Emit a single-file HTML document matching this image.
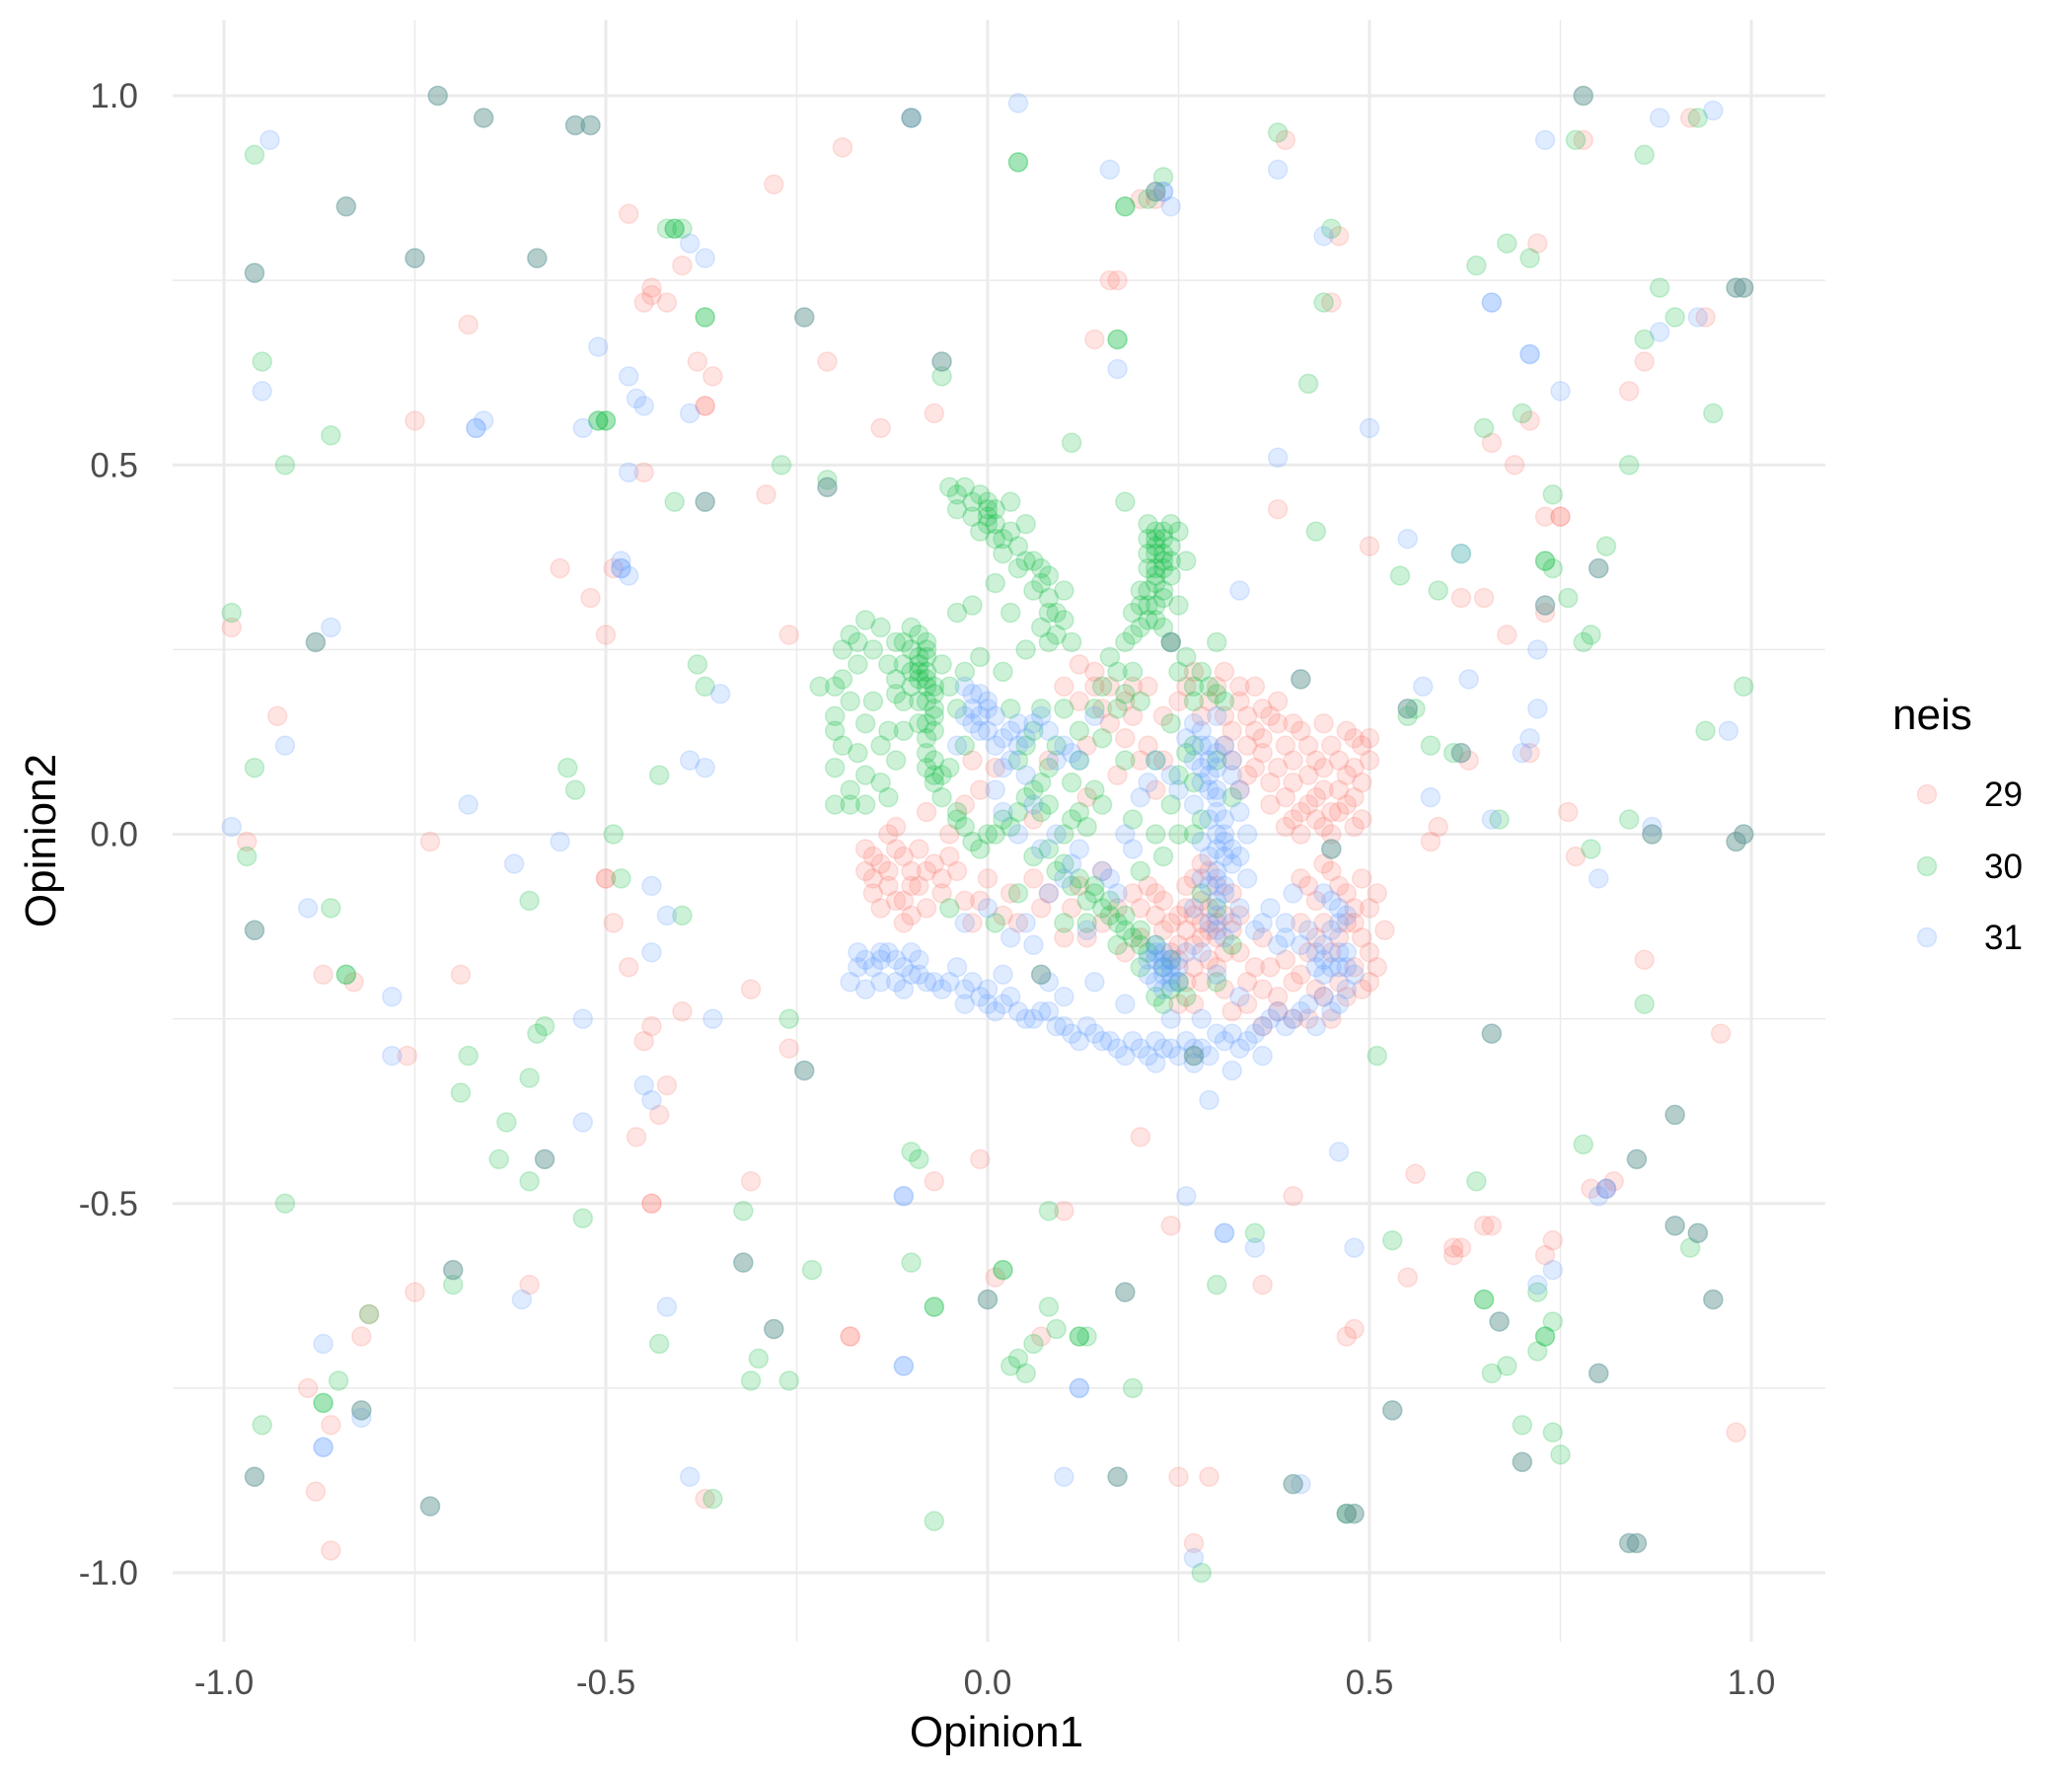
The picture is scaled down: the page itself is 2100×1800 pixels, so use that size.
<!DOCTYPE html>
<html><head><meta charset="utf-8"><title>Opinion scatter</title>
<style>
html,body{margin:0;padding:0;background:#fff;}
svg{display:block;font-family:"Liberation Sans",Arial,sans-serif;}
</style></head>
<body>
<svg id="chart" width="2100" height="1800" viewBox="0 0 2100 1800" xmlns="http://www.w3.org/2000/svg">
<rect x="0" y="0" width="2100" height="1800" fill="#fff"/>
<g id="grid"></g>
<g id="points"></g>
<g id="axes"></g>
<text x="1010" y="1770" font-size="44" text-anchor="middle" fill="#000">Opinion1</text>
<text x="0" y="0" font-size="44" text-anchor="middle" fill="#000" transform="translate(56,852) rotate(-90)">Opinion2</text>
<g>
<text x="1918" y="739" font-size="44" fill="#000">neis</text>
<g id="legend-keys"></g>
</g>
</svg>
<script>
const xTicks = [-1.0, -0.5, 0.0, 0.5, 1.0];
const yTicks = [-1.0, -0.5, 0.0, 0.5, 1.0];
const xTickLabels = ["-1.0", "-0.5", "0.0", "0.5", "1.0"];
const yTickLabels = ["-1.0", "-0.5", "0.0", "0.5", "1.0"];
const seriesNames = ["29", "30", "31"];
const seriesColors = ["#F8766D", "#00BA38", "#619CFF"];

const pts29 = [[-0.99,0.28],[-0.93,0.16],[-0.97,-0.01],[-0.83,-0.2],[-0.87,-0.19],[-0.76,-0.3],[-0.73,-0.01],[-0.75,0.56],[-0.68,0.69],[-0.69,-0.19],[-0.6,-0.61],[-0.75,-0.62],[-0.81,-0.65],[-0.82,-0.68],[-0.86,-0.8],[-0.88,-0.89],[-0.86,-0.97],[-0.89,-0.75],[-0.56,0.36],[-0.52,0.32],[-0.5,0.27],[-0.49,0.36],[-0.47,0.84],[-0.45,0.49],[-0.45,0.72],[-0.44,0.74],[-0.44,0.73],[-0.42,0.72],[-0.4,0.77],[-0.38,0.64],[-0.37,0.58],[-0.37,0.58],[-0.36,0.62],[-0.5,-0.06],[-0.5,-0.06],[-0.49,-0.12],[-0.47,-0.18],[-0.45,-0.28],[-0.44,-0.26],[-0.46,-0.41],[-0.44,-0.5],[-0.44,-0.5],[-0.43,-0.38],[-0.42,-0.34],[-0.4,-0.24],[-0.37,-0.9],[-0.31,-0.47],[-0.31,-0.21],[-0.29,0.46],[-0.28,0.88],[-0.26,0.27],[-0.26,-0.29],[-0.21,0.64],[-0.19,0.93],[-0.18,-0.68],[-0.18,-0.68],[-0.14,0.55],[-0.07,0.57],[-0.07,-0.47],[-0.01,-0.44],[0.01,-0.6],[0.07,-0.68],[0.1,-0.51],[0.14,0.67],[0.16,0.75],[0.17,0.75],[0.2,0.86],[0.22,0.86],[0.2,-0.41],[0.24,-0.53],[0.25,-0.87],[0.27,-0.96],[0.29,-0.87],[0.36,-0.61],[0.39,0.94],[0.4,-0.49],[0.45,0.72],[0.46,0.81],[0.47,-0.68],[0.48,-0.67],[0.5,0.39],[0.55,-0.6],[0.56,-0.46],[0.61,-0.57],[0.61,-0.56],[0.62,-0.56],[0.65,-0.53],[0.66,-0.53],[0.66,0.53],[0.65,0.32],[0.68,0.27],[0.69,0.5],[0.71,0.56],[0.72,0.8],[0.73,-0.57],[0.74,-0.55],[0.73,0.3],[0.73,0.43],[0.75,0.43],[0.75,0.43],[0.76,0.03],[0.79,-0.48],[0.81,-0.48],[0.82,-0.47],[0.78,0.94],[0.84,0.6],[0.86,0.64],[0.86,-0.17],[0.92,0.97],[0.94,0.7],[0.96,-0.27],[0.98,-0.81],[0.62,0.32],[0.63,0.1],[0.77,-0.03],[0.59,0.01],[0.71,0.11],[0.58,-0.01],[0.38,0.44],[0.13,0.12],[0.18,0.18],
[0.31,0.16],[0.33,0.18],[0.35,0.14],[0.37,0.16],[0.39,0.12],[0.41,0.14],[0.43,0.1],[0.45,0.12],[0.47,0.08],[0.49,0.12],[0.48,0.05],[0.46,0.03],[0.44,0.06],[0.42,0.04],[0.4,0.07],[0.38,0.09],[0.36,0.11],[0.34,0.08],[0.32,0.1],[0.45,0.0],[0.43,0.02],[0.41,0.0],[0.49,0.02],[0.5,0.1],[0.47,0.14],[0.35,0.2],[0.3,0.2],[0.27,0.22],[0.25,0.18],[0.37,0.04],[0.39,0.01],[0.48,0.13],[0.5,0.13],[0.44,0.15],
[-0.16,-0.02],[-0.14,-0.04],[-0.12,-0.02],[-0.1,-0.05],[-0.13,-0.07],[-0.15,-0.08],[-0.11,-0.09],[-0.09,-0.07],[-0.07,-0.04],[-0.05,-0.03],[-0.12,0.01],[-0.08,-0.1],[-0.15,-0.06],[-0.05,0.0],[-0.03,0.04],[-0.01,0.06],[0.01,0.09],[-0.02,0.1],[-0.08,0.03],
[0.22,-0.08],[0.24,-0.12],[0.26,-0.1],[0.28,-0.14],[0.3,-0.12],[0.32,-0.08],[0.27,-0.06],[0.29,-0.05],[0.31,-0.16],[0.25,-0.15],[0.23,-0.13],[0.33,-0.11],[0.28,-0.09],[0.3,-0.18],[0.26,-0.2],[0.34,-0.2],[0.32,-0.24],[0.36,-0.26],[0.38,-0.22],[0.2,-0.1],[0.27,-0.11],[0.29,-0.13],
[0.41,-0.06],[0.43,-0.09],[0.45,-0.05],[0.47,-0.08],[0.49,-0.06],[0.5,-0.1],[0.48,-0.12],[0.46,-0.14],[0.44,-0.12],[0.42,-0.16],[0.5,-0.16],[0.48,-0.18],[0.46,-0.2],[0.44,-0.22],[0.5,-0.2],[0.4,-0.2],[0.52,-0.13],
[0.1,0.2],[0.12,0.18],[0.14,0.2],[0.16,0.15],[0.18,0.13],[0.2,0.1],[0.22,0.06],[0.17,0.08],[0.13,0.05],[0.08,0.1],[0.06,0.02],[0.0,-0.06],[0.03,-0.08],[0.07,-0.1],[0.11,-0.1],[0.15,-0.05],[0.1,-0.14],[-0.02,-0.12],[0.18,-0.16],[0.2,-0.14]];

const pts29b = [[0.32,0.14],[0.34,0.16],[0.36,0.13],[0.38,0.15],[0.4,0.1],[0.42,0.12],[0.44,0.09],[0.46,0.1],[0.48,0.09],[0.49,0.07],[0.47,0.04],[0.45,0.03],[0.43,0.05],[0.41,0.03],[0.39,0.05],[0.37,0.07],[0.35,0.09],[0.33,0.06],[0.31,0.12],[0.29,0.18],[0.28,0.16],[0.34,0.12],[0.36,0.17],[0.4,0.15],[0.42,0.08],[0.46,0.06],[0.48,0.01],[0.44,0.01],[0.4,0.02],[0.38,0.18],[0.33,0.2],[0.31,0.22],[0.26,0.2],[0.23,0.16],[0.21,0.2],[0.19,0.2],[0.16,0.2],[0.14,0.22],[0.12,0.23],[0.15,0.17],[0.19,0.16],[0.21,0.12],[0.23,0.1],
[-0.15,-0.03],[-0.13,-0.05],[-0.11,-0.03],[-0.1,-0.07],[-0.12,-0.09],[-0.14,-0.1],[-0.1,-0.11],[-0.08,-0.05],[-0.06,-0.06],[-0.04,-0.05],[-0.16,-0.05],[-0.13,0.0],[-0.11,-0.12],[-0.09,-0.02],[-0.06,-0.08],[-0.03,-0.09],[-0.01,-0.09],[0.02,-0.11],[0.04,-0.12],[0.06,-0.06],[0.08,-0.08],
[0.23,-0.09],[0.25,-0.11],[0.26,-0.13],[0.27,-0.15],[0.28,-0.12],[0.29,-0.1],[0.3,-0.14],[0.31,-0.11],[0.32,-0.13],[0.29,-0.17],[0.27,-0.18],[0.25,-0.17],[0.24,-0.16],[0.26,-0.07],[0.28,-0.04],[0.3,-0.07],[0.33,-0.16],[0.35,-0.18],[0.36,-0.21],[0.34,-0.23],[0.31,-0.21],[0.28,-0.2],[0.27,-0.23],[0.25,-0.23],[0.22,-0.11],[0.21,-0.07],[0.19,-0.08],[0.17,-0.1],[0.15,-0.12],[0.13,-0.14],[0.12,-0.07],
[0.42,-0.07],[0.44,-0.04],[0.46,-0.07],[0.48,-0.1],[0.49,-0.14],[0.47,-0.12],[0.45,-0.16],[0.43,-0.14],[0.41,-0.12],[0.39,-0.17],[0.41,-0.19],[0.43,-0.21],[0.47,-0.22],[0.49,-0.21],[0.51,-0.08],[0.51,-0.18],[0.38,-0.24],[0.4,-0.25],[0.42,-0.25],[0.45,-0.25],[0.36,-0.14],[0.37,-0.18]];

const pts30 = [[-0.99,0.3],[-0.96,0.92],[-0.95,0.64],[-0.96,0.09],[-0.97,-0.03],[-0.92,0.5],[-0.92,-0.5],[-0.95,-0.8],[-0.87,-0.77],[-0.87,-0.77],[-0.86,-0.1],[-0.84,-0.19],[-0.84,-0.19],[-0.85,-0.74],[-0.81,-0.65],[-0.86,0.54],[-0.7,-0.61],[-0.69,-0.35],[-0.68,-0.3],[-0.64,-0.44],[-0.63,-0.39],[-0.6,-0.33],[-0.6,-0.47],[-0.59,-0.27],[-0.58,-0.26],[-0.6,-0.09],[-0.55,0.09],[-0.54,0.06],[-0.53,-0.52],[-0.51,0.56],[-0.5,0.56],[-0.51,0.56],[-0.5,0.56],[-0.49,0.0],[-0.48,-0.06],[-0.43,0.08],[-0.43,-0.69],[-0.42,0.82],[-0.41,0.82],[-0.4,0.82],[-0.41,0.82],[-0.41,0.45],[-0.4,-0.11],[-0.38,0.23],[-0.37,0.7],[-0.37,0.7],[-0.37,0.2],[-0.36,-0.9],[-0.32,-0.51],[-0.31,-0.74],[-0.3,-0.71],[-0.27,0.5],[-0.26,-0.25],[-0.26,-0.74],[-0.23,-0.59],[-0.22,0.2],[-0.21,0.48],[-0.2,0.14],[-0.18,0.04],[-0.1,-0.43],[-0.1,-0.58],[-0.07,-0.64],[-0.07,-0.64],[-0.07,-0.93],[-0.06,0.62],[-0.09,-0.44],[0.02,-0.59],[0.02,-0.59],[0.03,-0.72],[0.04,-0.71],[0.04,0.91],[0.04,0.91],[0.06,-0.69],[0.05,-0.73],[0.08,-0.64],[0.08,-0.51],[0.09,-0.67],[0.11,0.53],[0.12,-0.68],[0.13,-0.68],[0.12,-0.68],[0.18,0.85],[0.18,0.85],[0.18,0.45],[0.19,-0.75],[0.17,0.67],[0.17,0.67],[0.21,0.86],[0.23,0.89],[0.28,-1.0],[0.3,-0.61],[0.35,-0.54],[0.38,0.95],[0.42,0.61],[0.43,0.41],[0.44,0.72],[0.45,0.82],[0.47,-0.92],[0.51,-0.3],[0.53,-0.55],[0.54,0.35],[0.55,0.16],[0.56,0.17],[0.58,0.12],[0.59,0.33],[0.61,0.11],[0.62,0.38],[0.64,0.77],[0.65,0.55],[0.65,-0.63],[0.65,-0.63],[0.66,-0.73],[0.67,0.02],[0.68,0.8],[0.68,-0.72],[0.7,0.57],[0.7,-0.8],[0.71,0.78],[0.72,-0.62],[0.72,-0.7],[0.73,0.37],[0.74,0.36],[0.73,0.37],[0.73,-0.68],[0.73,-0.68],[0.74,-0.81],[0.74,0.46],[0.75,-0.84],[0.74,-0.66],[0.76,0.32],[0.77,0.94],[0.78,0.26],[0.78,-0.42],[0.79,-0.02],[0.79,0.27],[0.81,0.39],[0.84,0.02],[0.86,-0.23],[0.86,0.92],[0.86,0.67],[0.88,0.74],[0.94,0.14],[0.93,0.97],[0.95,0.57],[0.99,0.2],[0.92,-0.56],[0.9,0.7],[0.84,0.5],[0.64,-0.47],
[-0.05,0.47],[-0.03,0.47],[-0.01,0.46],[0.0,0.44],[0.0,0.42],[-0.02,0.43],[0.01,0.4],[0.03,0.41],[0.02,0.38],[0.04,0.36],[0.06,0.37],[0.07,0.34],[0.08,0.32],[0.09,0.3],[0.07,0.28],[0.09,0.27],[0.05,0.42],[0.03,0.45],[-0.04,0.44],[0.11,0.26],[0.0,0.43],[0.01,0.42],
[0.21,0.42],[0.22,0.41],[0.23,0.4],[0.24,0.39],[0.22,0.38],[0.23,0.37],[0.21,0.36],[0.24,0.35],[0.22,0.34],[0.2,0.33],[0.21,0.31],[0.19,0.3],[0.23,0.32],[0.25,0.41],[0.2,0.28],[0.18,0.26],[0.16,0.24],[0.19,0.22],[0.24,0.26],[0.26,0.24],[0.28,0.22],[0.3,0.26],[0.29,0.2],[0.27,0.18],[0.22,0.29],[0.26,0.37],[0.22,0.39],[0.23,0.38],[0.22,0.36],
[-0.18,0.27],[-0.16,0.29],[-0.14,0.28],[-0.12,0.26],[-0.1,0.28],[-0.08,0.26],[-0.09,0.24],[-0.08,0.22],[-0.07,0.2],[-0.09,0.18],[-0.07,0.16],[-0.08,0.13],[-0.1,0.2],[-0.06,0.23],[-0.11,0.23],[-0.17,0.23],[-0.19,0.21],[-0.15,0.18],[-0.13,0.14],[-0.12,0.1],[-0.14,0.07],[-0.16,0.04],[-0.18,0.06],[-0.2,0.04],[-0.12,0.19],[-0.05,0.09],[-0.07,0.07],[-0.06,0.05],[-0.04,0.03],[-0.03,0.12],[-0.02,0.31],[-0.04,0.3],[-0.01,0.24],[0.02,0.22],[-0.2,0.16],[-0.17,0.11],[-0.08,0.24],[-0.09,0.22],[-0.08,0.2],[-0.07,0.08],
[-0.04,0.02],[-0.02,-0.01],[0.0,0.0],[0.03,0.01],[0.05,0.05],[0.07,0.07],[0.08,0.04],[0.06,-0.03],[0.09,-0.05],[0.11,-0.07],[0.13,-0.09],[0.15,-0.1],[0.17,-0.12],[0.19,-0.14],[0.21,-0.16],[0.23,-0.18],[0.25,-0.2],[0.22,-0.22],[0.18,-0.11],[0.14,-0.07],[0.1,0.0],[0.12,0.03],[0.14,0.06],[0.12,0.1],[0.09,0.12],[0.06,0.14],[0.03,0.17],[0.04,0.1],[0.15,0.13],[0.17,0.17],[0.2,0.18],[0.24,0.15],[0.26,0.11],[0.27,0.07],[0.24,0.04],[0.22,0.0],[0.19,0.02],[0.1,-0.12],[0.04,-0.08],[0.01,-0.12],[-0.05,-0.1],[0.3,-0.2],[0.32,-0.15],[0.2,-0.05],[0.27,0.0],[0.16,-0.11],[0.2,-0.15]];

const pts30b = [[-0.04,0.46],[-0.02,0.45],[0.0,0.45],[0.01,0.44],[-0.01,0.41],[0.02,0.4],[0.04,0.39],[0.05,0.37],[0.07,0.36],[0.08,0.35],[0.06,0.33],[0.08,0.3],[0.1,0.29],[0.08,0.26],[0.05,0.25],[0.03,0.3],[0.01,0.34],[0.1,0.33],
[0.21,0.4],[0.22,0.4],[0.23,0.41],[0.24,0.42],[0.21,0.38],[0.23,0.36],[0.24,0.37],[0.22,0.35],[0.21,0.33],[0.23,0.33],[0.22,0.31],[0.2,0.31],[0.21,0.29],[0.19,0.27],[0.23,0.28],[0.25,0.31],[0.17,0.22],[0.15,0.2],[0.14,0.17],[0.18,0.19],[0.25,0.22],[0.27,0.2],[0.3,0.19],[0.31,0.18],
[-0.09,0.27],[-0.08,0.25],[-0.09,0.23],[-0.08,0.21],[-0.09,0.21],[-0.07,0.19],[-0.08,0.18],[-0.07,0.17],[-0.09,0.15],[-0.08,0.15],[-0.07,0.14],[-0.08,0.11],[-0.07,0.1],[-0.08,0.09],[-0.06,0.08],[-0.1,0.25],[-0.11,0.26],[-0.1,0.22],[-0.11,0.18],[-0.12,0.21],[-0.13,0.23],[-0.15,0.25],[-0.17,0.26],[-0.19,0.25],[-0.2,0.2],[-0.18,0.18],[-0.16,0.15],[-0.14,0.12],[-0.19,0.12],[-0.2,0.09],[-0.16,0.08],[-0.13,0.05],[-0.11,0.14],[-0.05,0.2],[-0.04,0.17],[-0.03,0.22],
[-0.03,0.01],[-0.01,-0.02],[0.01,0.0],[0.02,0.02],[0.04,0.03],[0.06,0.06],[0.07,0.03],[0.08,-0.02],[0.1,-0.04],[0.12,-0.06],[0.14,-0.08],[0.16,-0.09],[0.18,-0.13],[0.2,-0.13],[0.22,-0.15],[0.24,-0.17],[0.24,-0.21],[0.23,-0.23],[0.26,-0.22],[0.2,-0.18],[0.17,-0.15],[0.13,-0.12],[0.11,0.02],[0.13,0.01],[0.15,0.04],[0.11,0.07],[0.08,0.09],[0.05,0.12],[0.07,0.17],[0.1,0.17],[0.12,0.14],[0.18,0.1],[0.22,0.1],[0.25,0.08],[0.27,0.12],[0.3,0.1],[0.32,0.05],[0.28,0.02],[0.25,0.0],[0.23,-0.03],[0.28,-0.08],[0.3,-0.1]];

const pts31 = [[-0.99,0.01],[-0.94,0.94],[-0.95,0.6],[-0.92,0.12],[-0.86,0.28],[-0.89,-0.1],[-0.78,-0.22],[-0.78,-0.3],[-0.82,-0.79],[-0.87,-0.69],[-0.87,-0.83],[-0.87,-0.83],[-0.68,0.04],[-0.67,0.55],[-0.67,0.55],[-0.66,0.56],[-0.62,-0.04],[-0.61,-0.63],[-0.56,-0.01],[-0.53,-0.25],[-0.53,-0.39],[-0.53,0.55],[-0.51,0.66],[-0.48,0.36],[-0.48,0.36],[-0.48,0.37],[-0.47,0.35],[-0.47,0.49],[-0.47,0.62],[-0.46,0.59],[-0.45,0.58],[-0.44,-0.07],[-0.44,-0.16],[-0.45,-0.34],[-0.44,-0.36],[-0.42,-0.11],[-0.42,-0.64],[-0.39,0.8],[-0.39,0.57],[-0.37,0.78],[-0.36,-0.25],[-0.35,0.19],[-0.39,-0.87],[-0.39,0.1],[-0.37,0.09],[-0.1,0.97],[-0.11,-0.49],[-0.11,-0.49],[-0.11,-0.72],[-0.11,-0.72],[0.04,0.99],[0.1,-0.87],[0.12,-0.75],[0.12,-0.75],[0.16,0.9],[0.17,0.63],[0.23,0.87],[0.23,0.87],[0.24,0.85],[0.26,-0.49],[0.27,-0.98],[0.29,-0.36],[0.31,-0.54],[0.31,-0.54],[0.33,0.33],[0.35,-0.56],[0.38,0.9],[0.38,0.51],[0.41,-0.88],[0.44,0.81],[0.46,-0.43],[0.48,-0.56],[0.5,0.55],[0.55,0.4],[0.57,0.2],[0.58,0.05],[0.62,0.38],[0.63,0.21],[0.66,0.72],[0.66,0.72],[0.66,0.02],[0.7,0.11],[0.71,0.65],[0.71,0.65],[0.71,0.13],[0.72,0.17],[0.72,0.25],[0.72,-0.61],[0.74,-0.59],[0.75,0.6],[0.73,0.94],[0.8,-0.06],[0.81,-0.48],[0.81,-0.48],[0.8,-0.49],[0.88,0.97],[0.87,0.01],[0.93,0.7],[0.95,0.98],[0.97,0.14],[0.88,0.68],
[0.27,0.15],[0.28,0.12],[0.29,0.1],[0.28,0.07],[0.3,0.05],[0.29,0.02],[0.31,0.0],[0.3,-0.02],[0.32,-0.04],[0.31,-0.07],[0.3,-0.09],[0.29,-0.12],[0.31,-0.14],[0.33,-0.1],[0.28,-0.06],[0.27,0.04],[0.32,0.08],[0.31,0.12],[0.3,0.16],[0.33,0.03],[0.34,-0.06],[0.27,-0.1],[0.28,-0.16],[0.3,-0.19],[0.3,0.06],[0.29,0.08],[0.31,-0.03],[0.3,-0.05],
[0.22,-0.17],[0.23,-0.19],[0.24,-0.18],[0.25,-0.2],[0.23,-0.21],[0.21,-0.19],[0.22,-0.15],[0.26,-0.16],[0.23,-0.18],[0.24,-0.2],
[0.44,-0.08],[0.46,-0.1],[0.45,-0.13],[0.47,-0.16],[0.45,-0.18],[0.43,-0.18],[0.48,-0.19],[0.41,-0.15],[0.39,-0.12],[0.37,-0.1],[0.38,-0.15],[0.35,-0.13],[0.4,-0.08],[0.46,-0.18],[0.44,-0.17],
[-0.03,0.2],[-0.01,0.19],[0.0,0.17],[-0.02,0.15],[0.0,0.14],[0.02,0.13],[0.04,0.15],[0.06,0.15],[0.08,0.14],[0.03,0.1],[0.05,0.08],[0.1,0.12],[0.12,0.1],[-0.04,0.12],[0.01,0.06],[0.06,0.04],[0.09,0.0],[0.12,-0.02],[0.15,-0.05],[0.17,-0.08],[0.19,-0.02],[0.2,0.05],[0.22,0.1],[0.24,0.08],[0.14,0.16],[0.1,-0.06],[0.05,-0.12],[0.0,-0.1],[0.06,-0.15],[0.13,-0.13],[-0.01,0.16],[-0.02,0.17],
[-0.17,-0.16],[-0.15,-0.18],[-0.13,-0.16],[-0.11,-0.18],[-0.09,-0.17],[-0.08,-0.2],[-0.06,-0.21],[-0.12,-0.2],[-0.16,-0.21],[-0.18,-0.2],[-0.04,-0.18],[-0.02,-0.2],[-0.01,-0.22],[0.01,-0.24],[0.03,-0.22],[0.05,-0.25],[0.07,-0.24],[0.09,-0.26],[0.11,-0.27],[0.13,-0.26],[0.15,-0.28],[0.17,-0.29],[0.19,-0.28],[0.21,-0.3],[0.23,-0.29],[0.25,-0.3],[0.27,-0.29],[0.29,-0.3],[0.31,-0.28],[0.33,-0.29],[0.35,-0.27],[0.37,-0.25],[0.39,-0.26],[0.41,-0.24],[0.43,-0.26],[0.44,-0.22],[0.46,-0.23],[0.02,-0.19],[0.0,-0.23],[-0.03,-0.23],[0.08,-0.2],[0.1,-0.22],[0.14,-0.2],[0.18,-0.23],[0.24,-0.25],[0.28,-0.25],[0.33,-0.22],[-0.1,-0.19],[-0.14,-0.17]];

const pts31b = [[0.28,0.14],[0.29,0.12],[0.3,0.11],[0.29,0.06],[0.3,0.03],[0.31,0.02],[0.3,0.0],[0.31,-0.01],[0.32,-0.02],[0.3,-0.06],[0.31,-0.08],[0.3,-0.11],[0.3,-0.13],[0.32,-0.12],[0.29,-0.07],[0.28,0.09],[0.3,0.09],[0.32,0.1],[0.33,0.06],[0.34,0.0],[0.33,-0.03],[0.29,-0.03],[0.28,-0.01],[0.27,0.1],[0.26,0.13],
[0.22,-0.16],[0.23,-0.17],[0.24,-0.19],[0.22,-0.2],[0.24,-0.17],[0.25,-0.18],[0.21,-0.17],[0.23,-0.16],
[0.45,-0.09],[0.46,-0.12],[0.44,-0.15],[0.46,-0.16],[0.47,-0.18],[0.44,-0.19],[0.43,-0.16],[0.42,-0.13],[0.39,-0.14],[0.36,-0.12],[0.47,-0.11],
[-0.02,0.19],[0.0,0.18],[0.01,0.16],[-0.01,0.14],[0.01,0.12],[0.03,0.14],[0.05,0.13],[0.07,0.16],[0.04,0.12],[0.02,0.09],[-0.03,0.16],[0.09,0.1],[0.11,0.11],[0.02,0.03],[0.04,0.0],[0.07,-0.02],[0.11,-0.04],[0.16,-0.06],[0.18,0.0],[0.21,0.07],[0.25,0.06],[0.08,-0.08],[0.03,-0.14],[-0.03,-0.12],
[-0.16,-0.17],[-0.14,-0.16],[-0.12,-0.17],[-0.1,-0.16],[-0.09,-0.19],[-0.07,-0.2],[-0.11,-0.21],[-0.14,-0.2],[-0.17,-0.18],[-0.05,-0.2],[-0.03,-0.21],[0.0,-0.21],[0.02,-0.23],[0.04,-0.24],[0.06,-0.25],[0.08,-0.24],[0.1,-0.26],[0.12,-0.28],[0.14,-0.27],[0.16,-0.28],[0.18,-0.3],[0.2,-0.29],[0.22,-0.28],[0.24,-0.29],[0.26,-0.28],[0.28,-0.29],[0.3,-0.27],[0.32,-0.27],[0.34,-0.28],[0.36,-0.26],[0.38,-0.24],[0.4,-0.25],[0.42,-0.23],[0.45,-0.24],[0.47,-0.21],[0.36,-0.3],[0.32,-0.32],[0.27,-0.31],[0.22,-0.31]];

// points where all three groups overlap (appear grey-green)
const ptsShared = [[-0.96,0.76],[-0.72,1.0],[-0.66,0.97],[-0.54,0.96],[-0.52,0.96],[-0.84,0.85],[-0.75,0.78],[-0.59,0.78],[-0.24,0.7],[-0.06,0.64],[-0.37,0.45],[-0.21,0.47],[-0.88,0.26],[-0.96,-0.13],[-0.58,-0.44],[-0.73,-0.91],[-0.7,-0.59],[-0.96,-0.87],[-0.82,-0.78],[-0.32,-0.58],[-0.28,-0.67],[-0.24,-0.32],[0.0,-0.63],[0.07,-0.19],[0.18,-0.62],[0.17,-0.87],[0.27,-0.3],[0.47,-0.92],[0.48,-0.92],[0.53,-0.78],[0.7,-0.85],[0.67,-0.66],[0.8,-0.73],[0.9,-0.53],[0.95,-0.63],[0.93,-0.54],[0.9,-0.38],[0.85,-0.44],[0.87,0.0],[0.98,-0.01],[0.99,0.0],[0.8,0.36],[0.73,0.31],[0.62,0.11],[0.45,-0.02],[0.55,0.17],[0.98,0.74],[0.99,0.74],[0.78,1.0],[0.84,-0.96],[0.85,-0.96],[0.66,-0.27],[0.41,0.21],[-0.1,0.97],[0.22,0.87],[0.24,0.26],[0.4,-0.88]];

const NS = "http://www.w3.org/2000/svg";
const X0 = 227, X1 = 1775, Y0 = 1594, Y1 = 97;
function sx(v){ return X0 + (v + 1) / 2 * (X1 - X0); }
function sy(v){ return Y0 - (v + 1) / 2 * (Y0 - Y1); }
const PL = 175, PR = 1850, PT = 20, PB = 1664;

const grid = document.getElementById('grid');
function line(x1,y1,x2,y2,w,name){
  const l = document.createElementNS(NS,'line');
  l.setAttribute('x1',x1); l.setAttribute('y1',y1); l.setAttribute('x2',x2); l.setAttribute('y2',y2);
  l.setAttribute('stroke','#ebebeb'); l.setAttribute('stroke-width',w);
  
  
  grid.appendChild(l);
}
for (let i = 0; i < xTicks.length - 1; i++) {
  const m = (xTicks[i] + xTicks[i+1]) / 2;
  line(sx(m),PT,sx(m),PB,1.5,'minor-gridline-x');
}
for (let i = 0; i < yTicks.length - 1; i++) {
  const m = (yTicks[i] + yTicks[i+1]) / 2;
  line(PL,sy(m),PR,sy(m),1.5,'minor-gridline-y');
}
xTicks.forEach(v => line(sx(v),PT,sx(v),PB,3,'major-gridline-x'));
yTicks.forEach(v => line(PL,sy(v),PR,sy(v),3,'major-gridline-y'));

const axes = document.getElementById('axes');
xTicks.forEach((v,i) => {
  const t = document.createElementNS(NS,'text');
  t.setAttribute('x', sx(v)); t.setAttribute('y', 1717);
  t.setAttribute('font-size','35'); t.setAttribute('fill','#4d4d4d'); t.setAttribute('text-anchor','middle');
  t.textContent = xTickLabels[i];
  
  
  axes.appendChild(t);
});
yTicks.forEach((v,i) => {
  const t = document.createElementNS(NS,'text');
  t.setAttribute('x', 140); t.setAttribute('y', sy(v) + 12);
  t.setAttribute('font-size','35'); t.setAttribute('fill','#4d4d4d'); t.setAttribute('text-anchor','end');
  t.textContent = yTickLabels[i];
  
  
  axes.appendChild(t);
});

const pg = document.getElementById('points');
function dot(p, color, name){
  const c = document.createElementNS(NS,'circle');
  c.setAttribute('cx', sx(p[0])); c.setAttribute('cy', sy(p[1])); c.setAttribute('r', 9.5);
  c.setAttribute('fill', color); c.setAttribute('fill-opacity', 0.2);
  c.setAttribute('stroke', color); c.setAttribute('stroke-opacity', 0.2); c.setAttribute('stroke-width', 1.5);
  
  
  pg.appendChild(c);
}
pts29.forEach(p => dot(p, seriesColors[0], 'point-neis-29'));
pts29b.forEach(p => dot(p, seriesColors[0], 'point-neis-29'));
pts30.forEach(p => dot(p, seriesColors[1], 'point-neis-30'));
pts30b.forEach(p => dot(p, seriesColors[1], 'point-neis-30'));
pts31.forEach(p => dot(p, seriesColors[2], 'point-neis-31'));
pts31b.forEach(p => dot(p, seriesColors[2], 'point-neis-31'));
ptsShared.forEach(p => { seriesColors.forEach(c => dot(p, c, 'point-overlap')); });

const lk = document.getElementById('legend-keys');
const legendY = [805, 878, 950];
seriesNames.forEach((n,i) => {
  const g = document.createElementNS(NS,'g');
  
  
  const c = document.createElementNS(NS,'circle');
  c.setAttribute('cx', 1953); c.setAttribute('cy', legendY[i]); c.setAttribute('r', 9.5);
  c.setAttribute('fill', seriesColors[i]); c.setAttribute('fill-opacity', 0.2);
  c.setAttribute('stroke', seriesColors[i]); c.setAttribute('stroke-opacity', 0.2); c.setAttribute('stroke-width', 1.5);
  
  
  const t = document.createElementNS(NS,'text');
  t.setAttribute('x', 2011); t.setAttribute('y', legendY[i] + 12);
  t.setAttribute('font-size','35'); t.setAttribute('fill','#000');
  t.textContent = n;
  
  
  g.appendChild(c); g.appendChild(t); lk.appendChild(g);
});
</script>
</body></html>
